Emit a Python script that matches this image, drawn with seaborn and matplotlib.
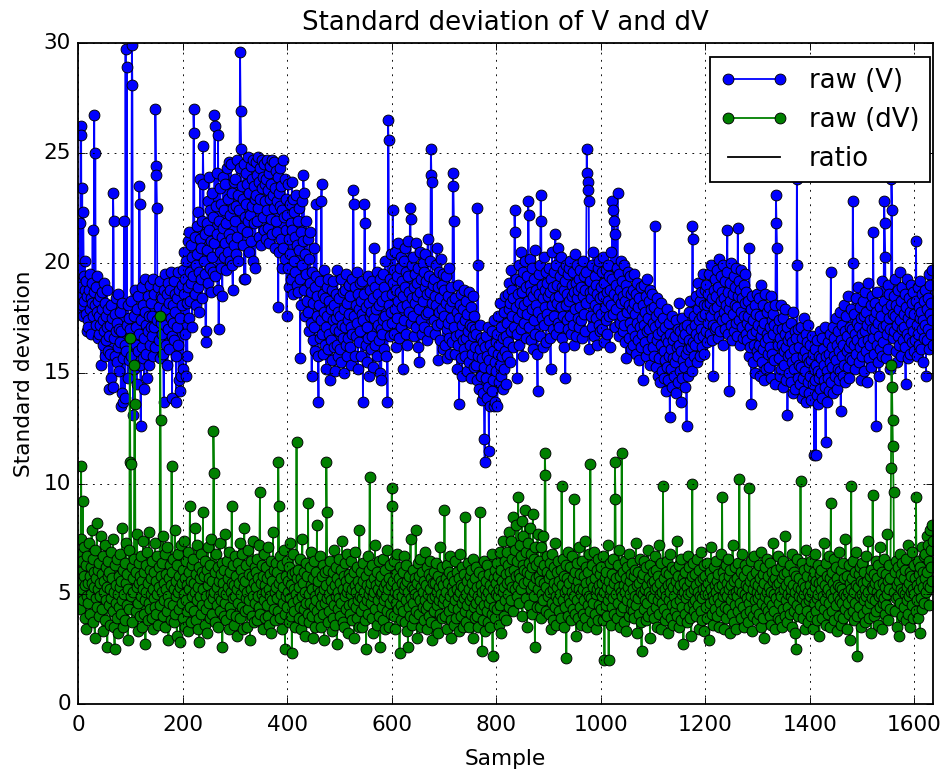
import numpy as np
import pandas as pd
import matplotlib
matplotlib.use("Agg")
import matplotlib.pyplot as plt
import seaborn as sns

plt.style.use("classic")
plt.rcParams["font.family"] = ["DejaVu Sans"]

# Standard deviation of V per sample, in tenths (value / 10)
raw_v_tenths = [
    185, 192, 178, 218, 189, 262, 258, 181, 234, 176, 223, 194, 183, 201, 188, 177, 192, 169, 185, 174,
    171, 188, 195, 179, 184, 168, 191, 182, 215, 176, 187, 267, 181, 250, 172, 189, 178, 194, 166, 183,
    176, 168, 185, 172, 154, 179, 187, 163, 174, 191, 169, 158, 182, 176, 165, 188, 171, 160, 179, 167,
    143, 172, 159, 181, 148, 175, 144, 232, 219, 166, 177, 158, 169, 184, 155, 173, 162, 186, 151, 170,
    164, 178, 135, 169, 141, 182, 157, 137, 219, 163, 139, 297, 160, 289, 172, 148, 181, 156, 175, 167,
    170, 158, 183, 299, 281, 165, 131, 176, 152, 188, 163, 171, 145, 179, 160, 185, 168, 235, 227, 154,
    126, 174, 162, 189, 157, 181, 166, 143, 178, 193, 159, 172, 148, 185, 169, 176, 154, 190, 163, 171,
    182, 167, 176, 158, 193, 171, 186, 162, 270, 244, 240, 225, 174, 189, 165, 180, 157, 192, 173, 185,
    168, 184, 176, 159, 137, 188, 172, 195, 163, 179, 186, 154, 191, 170, 182, 161, 188, 175, 196, 167,
    139, 181, 173, 192, 165, 186, 178, 158, 137, 184, 171, 196, 163, 147, 188, 142, 175, 149, 190, 181,
    197, 152, 186, 205, 168, 193, 149, 201, 182, 158, 210, 189, 175, 214, 196, 183, 208, 191, 171, 203,
    194, 270, 259, 186, 212, 199, 181, 217, 204, 189, 223, 196, 178, 211, 238, 193, 207, 184, 219, 253,
    236, 201, 213, 195, 164, 169, 218, 206, 228, 191, 215, 239, 198, 224, 187, 210, 232, 203, 196, 221,
    209, 267, 262, 194, 226, 213, 241, 188, 258, 170, 219, 205, 234, 198, 227, 212, 185, 239, 216, 203,
    224, 209, 236, 197, 218, 243, 205, 229, 213, 246, 201, 222, 245, 211, 232, 199, 188, 225, 208, 237,
    219, 238, 204, 226, 247, 212, 231, 201, 224, 243, 296, 269, 252, 216, 235, 208, 229, 245, 193, 221,
    193, 227, 241, 214, 236, 219, 248, 205, 232, 222, 244, 210, 238, 226, 201, 247, 218, 235, 229, 198,
    231, 246, 219, 240, 225, 248, 212, 237, 229, 243, 208, 234, 247, 221, 239, 215, 245, 228, 236, 211,
    238, 224, 247, 216, 233, 241, 209, 229, 244, 220, 236, 247, 213, 231, 225, 246, 207, 234, 219, 242,
    228, 214, 239, 180, 232, 205, 226, 243, 211, 235, 198, 224, 247, 207, 221, 238, 202, 229, 215, 176,
    222, 198, 236, 211, 189, 227, 204, 218, 193, 237, 215, 186, 229, 201, 223, 196, 212, 231, 190, 208,
    219, 187, 206, 225, 193, 157, 214, 181, 228, 199, 210, 240, 232, 188, 204, 176, 219, 195, 183, 211,
    178, 202, 169, 191, 214, 173, 187, 149, 196, 165, 182, 207, 171, 189, 160, 194, 227, 176, 185, 158,
    137, 181, 166, 192, 174, 228, 236, 168, 186, 159, 178, 197, 163, 184, 171, 152, 189, 176, 161, 193,
    168, 183, 147, 179, 165, 188, 156, 174, 192, 162, 181, 170, 151, 186, 175, 163, 197, 158, 178, 169,
    184, 161, 176, 193, 155, 172, 187, 166, 179, 150, 188, 171, 163, 195, 158, 182, 174, 166, 190, 177,
    162, 185, 171, 154, 193, 168, 233, 227, 176, 189, 158, 181, 167, 196, 173, 152, 186, 164, 179, 191,
    169, 183, 158, 177, 192, 137, 174, 186, 227, 218, 163, 180, 155, 171, 194, 166, 182, 149, 176, 188,
    161, 178, 192, 167, 184, 153, 175, 207, 189, 163, 179, 196, 158, 172, 186, 165, 181, 150, 193, 170,
    147, 183, 168, 195, 174, 161, 189, 176, 201, 158, 185, 172, 137, 265, 256, 181, 193, 167, 178, 204,
    186, 173, 224, 191, 168, 197, 179, 205, 162, 188, 194, 175, 209, 183, 166, 198, 187, 171, 203, 180,
    192, 152, 185, 201, 174, 189, 207, 168, 196, 181, 163, 194, 210, 178, 187, 225, 220, 173, 199, 184,
    176, 203, 189, 167, 195, 182, 209, 171, 191, 185, 162, 198, 179, 155, 187, 205, 174, 193, 168, 200,
    183, 196, 171, 189, 204, 177, 192, 165, 186, 211, 178, 194, 169, 187, 201, 252, 240, 237, 182, 190,
    174, 193, 185, 168, 199, 181, 207, 172, 156, 189, 178, 196, 165, 184, 202, 173, 190, 179, 161, 195,
    176, 188, 163, 182, 194, 170, 157, 185, 173, 198, 166, 180, 159, 189, 175, 164, 183, 241, 235, 219,
    171, 159, 184, 167, 178, 152, 190, 163, 175, 136, 181, 168, 157, 186, 172, 149, 179, 165, 188, 161,
    174, 158, 183, 166, 151, 177, 169, 187, 155, 172, 163, 180, 148, 171, 159, 185, 167, 153, 176, 162,
    170, 154, 168, 147, 225, 199, 158, 143, 172, 161, 149, 166, 138, 157, 164, 141, 153, 120, 110, 162,
    148, 167, 139, 158, 171, 144, 115, 156, 163, 135, 152, 169, 142, 160, 147, 174, 135, 155, 137, 164,
    151, 168, 135, 159, 176, 146, 163, 154, 182, 149, 171, 158, 143, 166, 178, 152, 160, 185, 145, 167,
    173, 158, 186, 164, 179, 191, 155, 182, 169, 197, 176, 188, 162, 184, 171, 224, 214, 180, 193, 168,
    148, 186, 175, 199, 163, 182, 192, 170, 205, 178, 187, 158, 196, 181, 173, 201, 166, 189, 177, 194,
    183, 228, 222, 171, 190, 202, 165, 187, 179, 198, 161, 185, 193, 174, 206, 168, 188, 181, 159, 142,
    178, 195, 186, 167, 199, 231, 219, 175, 190, 162, 184, 203, 172, 188, 180, 196, 164, 191, 177, 185,
    198, 174, 187, 166, 152, 193, 181, 205, 170, 189, 196, 176, 184, 213, 168, 199, 182, 190, 173, 207,
    185, 171, 194, 180, 203, 166, 189, 197, 176, 188, 162, 192, 148, 181, 199, 174, 186, 195, 170, 198,
    183, 176, 201, 168, 190, 185, 172, 196, 163, 187, 204, 179, 191, 167, 184, 199, 175, 188, 171, 193,
    180, 197, 174, 189, 166, 201, 185, 177, 194, 169, 188, 182, 196, 252, 241, 237, 233, 228, 161, 187,
    192, 176, 184, 199, 171, 188, 205, 167, 181, 194, 175, 190, 163, 186, 198, 179, 172, 201, 184, 169,
    189, 177, 196, 170, 185, 203, 164, 191, 180, 197, 174, 187, 168, 199, 183, 176, 194, 162, 188, 205,
    181, 193, 228, 177, 224, 186, 219, 171, 213, 190, 179, 198, 232, 184, 167, 195, 188, 173, 201, 182,
    176, 192, 169, 185, 199, 172, 183, 164, 190, 157, 187, 178, 196, 166, 181, 173, 194, 161, 186, 179,
    170, 188, 163, 182, 195, 167, 177, 159, 186, 173, 191, 165, 180, 156, 184, 171, 162, 189, 175, 168,
    181, 147, 172, 190, 164, 178, 158, 185, 169, 193, 175, 161, 183, 170, 188, 154, 179, 166, 186, 173,
    162, 180, 158, 217, 171, 153, 176, 165, 184, 149, 168, 178, 157, 173, 146, 182, 163, 169, 151, 175,
    160, 148, 171, 156, 166, 142, 179, 153, 164, 147, 173, 158, 130, 168, 152, 161, 176, 144, 165, 157,
    149, 167, 155, 174, 141, 162, 158, 170, 146, 163, 182, 151, 169, 137, 160, 175, 148, 166, 156, 171,
    153, 168, 144, 159, 126, 172, 161, 149, 178, 165, 155, 183, 162, 170, 151, 217, 211, 164, 176, 158,
    172, 163, 185, 168, 155, 179, 191, 166, 174, 158, 183, 170, 187, 162, 176, 195, 167, 181, 159, 188,
    177, 169, 190, 181, 164, 186, 173, 195, 168, 182, 176, 199, 165, 184, 172, 149, 188, 179, 193, 170,
    185, 171, 197, 180, 166, 189, 176, 202, 169, 183, 194, 174, 187, 163, 199, 178, 184, 170, 192, 181,
    175, 196, 215, 168, 187, 179, 142, 191, 183, 172, 200, 165, 186, 177, 194, 169, 189, 181, 173, 198,
    180, 167, 216, 185, 174, 192, 163, 188, 178, 197, 171, 184, 166, 190, 176, 182, 195, 168, 187, 173,
    165, 183, 176, 158, 207, 171, 162, 179, 136, 168, 185, 155, 174, 163, 181, 150, 177, 169, 186, 160,
    172, 158, 184, 163, 149, 176, 167, 190, 155, 170, 161, 181, 147, 173, 164, 186, 152, 168, 178, 159,
    166, 180, 153, 171, 162, 185, 148, 174, 159, 168, 177, 156, 172, 145, 181, 231, 218, 207, 163, 170,
    157, 174, 149, 166, 181, 152, 163, 170, 144, 175, 160, 154, 168, 179, 147, 162, 171, 131, 158, 165,
    150, 167, 159, 146, 173, 155, 164, 141, 178, 161, 152, 169, 143, 166, 157, 238, 199, 148, 170, 154,
    162, 145, 171, 153, 139, 166, 158, 148, 175, 142, 160, 151, 168, 137, 157, 164, 146, 172, 155, 141,
    163, 149, 156, 138, 167, 145, 159, 152, 113, 147, 161, 113, 154, 140, 165, 151, 136, 158, 148, 169,
    143, 157, 150, 166, 139, 161, 147, 154, 171, 144, 119, 158, 151, 137, 164, 148, 159, 142, 168, 155,
    196, 146, 162, 153, 171, 141, 158, 166, 149, 175, 156, 143, 163, 152, 169, 147, 160, 178, 151, 133,
    165, 158, 172, 149, 163, 181, 154, 169, 146, 176, 160, 167, 153, 185, 162, 148, 171, 157, 179, 164,
    170, 156, 228, 200, 163, 177, 152, 168, 184, 159, 173, 165, 189, 155, 171, 162, 180, 147, 175, 168,
    158, 183, 164, 176, 151, 187, 169, 160, 178, 146, 172, 165, 191, 157, 174, 163, 181, 153, 170, 185,
    166, 214, 175, 159, 182, 170, 126, 178, 163, 187, 155, 173, 167, 149, 180, 161, 176, 192, 158, 171,
    164, 183, 228, 218, 203, 172, 157, 179, 168, 190, 161, 175, 186, 152, 170, 181, 238, 224, 166, 177,
    185, 169, 176, 193, 160, 181, 172, 155, 188, 167, 179, 163, 196, 174, 158, 183, 170, 189, 165, 177,
    171, 186, 162, 145, 180, 168, 193, 157, 175, 184, 166, 178, 159, 190, 173, 164, 182, 169, 187, 160,
    177, 165, 183, 210, 172, 158, 189, 168, 180, 163, 175, 192, 161, 178, 170, 186, 155, 174, 183, 166,
    172, 188, 149, 179, 165, 184, 170, 195, 161, 177, 190, 168, 182, 174, 197, 163,
]

# Standard deviation of dV per sample, in tenths (value / 10)
raw_dv_tenths = [
    56, 51, 68, 43, 60, 75, 108, 52, 65, 92, 47, 58, 71, 39, 54, 63, 34, 49, 67, 55,
    46, 73, 58, 41, 62, 50, 79, 55, 37, 66, 53, 60, 30, 70, 48, 57, 82, 44, 61, 52,
    64, 40, 55, 49, 76, 43, 59, 33, 67, 51, 56, 38, 72, 47, 62, 53, 26, 58, 65, 45,
    60, 52, 36, 69, 48, 57, 42, 75, 51, 35, 25, 63, 46, 54, 39, 66, 50, 32, 58, 44,
    53, 68, 41, 56, 47, 80, 35, 61, 50, 64, 38, 55, 73, 45, 59, 29, 52, 70, 43, 166,
    110, 109, 49, 62, 37, 57, 51, 66, 154, 136, 42, 60, 53, 77, 46, 33, 64, 55, 40, 58,
    49, 67, 35, 56, 52, 74, 41, 60, 47, 27, 63, 51, 69, 38, 55, 46, 78, 43, 61, 50,
    57, 39, 65, 52, 34, 60, 48, 73, 44, 56, 41, 67, 50, 36, 62, 53, 45, 176, 129, 58,
    51, 64, 40, 76, 47, 55, 35, 68, 52, 59, 42, 71, 49, 29, 57, 46, 63, 38, 54, 108,
    60, 45, 66, 37, 52, 79, 41, 56, 49, 31, 63, 51, 68, 43, 58, 28, 53, 72, 46, 55,
    39, 61, 50, 74, 35, 57, 47, 65, 42, 54, 33, 69, 52, 60, 90, 44, 56, 37, 63, 49,
    66, 42, 55, 51, 80, 38, 59, 47, 72, 34, 53, 62, 28, 57, 49, 68, 41, 60, 45, 87,
    52, 58, 36, 65, 49, 43, 61, 32, 54, 71, 46, 57, 39, 63, 50, 75, 41, 56, 48, 124,
    105, 51, 60, 37, 68, 53, 45, 62, 35, 56, 49, 73, 42, 59, 47, 64, 26, 55, 51, 40,
    61, 46, 77, 50, 38, 65, 53, 57, 34, 69, 44, 60, 51, 41, 90, 55, 48, 63, 36, 54,
    49, 67, 40, 58, 52, 31, 64, 46, 55, 73, 39, 61, 50, 44, 68, 34, 57, 53, 80, 42,
    56, 48, 63, 35, 51, 70, 43, 59, 47, 29, 65, 52, 58, 40, 74, 49, 55, 37, 62, 46,
    53, 60, 38, 66, 49, 57, 44, 72, 96, 41, 55, 50, 63, 34, 58, 47, 68, 39, 54, 51,
    62, 45, 57, 40, 71, 52, 36, 59, 49, 65, 32, 56, 47, 78, 43, 61, 51, 38, 64, 53,
    48, 60, 42, 110, 90, 55, 39, 67, 50, 57, 34, 63, 46, 53, 70, 41, 25, 58, 49, 65,
    44, 56, 51, 37, 62, 48, 73, 40, 54, 23, 59, 46, 68, 42, 52, 60, 35, 50, 119, 57,
    47, 61, 39, 53, 66, 44, 34, 57, 49, 75, 38, 55, 43, 60, 51, 31, 64, 46, 58, 41,
    91, 50, 37, 62, 46, 54, 69, 40, 52, 30, 57, 44, 65, 49, 35, 60, 47, 81, 42, 53,
    56, 39, 51, 67, 45, 35, 58, 49, 63, 41, 52, 29, 60, 46, 54, 110, 87, 48, 37, 61,
    50, 42, 65, 47, 56, 33, 52, 60, 39, 70, 45, 54, 36, 62, 49, 27, 57, 51, 43, 66,
    48, 55, 40, 61, 46, 74, 37, 52, 58, 35, 64, 49, 43, 56, 51, 68, 32, 53, 45, 59,
    41, 57, 50, 65, 38, 52, 46, 60, 30, 54, 69, 44, 51, 39, 62, 47, 56, 35, 79, 49,
    53, 42, 60, 48, 35, 56, 64, 45, 51, 38, 58, 25, 47, 54, 67, 41, 50, 61, 103, 52,
    46, 55, 39, 63, 49, 32, 57, 51, 72, 43, 54, 36, 60, 47, 52, 65, 40, 56, 26, 50,
    58, 44, 51, 66, 38, 53, 47, 61, 34, 55, 49, 42, 70, 52, 35, 57, 46, 63, 41, 54,
    98, 90, 48, 56, 40, 65, 51, 34, 59, 46, 53, 68, 43, 50, 57, 23, 62, 45, 38, 55,
    49, 60, 42, 52, 67, 37, 54, 47, 63, 33, 56, 26, 51, 44, 58, 40, 75, 48, 53, 36,
    61, 46, 52, 39, 57, 50, 79, 42, 55, 30, 64, 49, 41, 58, 47, 66, 35, 53, 60, 44,
    51, 38, 56, 47, 69, 43, 54, 34, 62, 50, 45, 59, 40, 52, 65, 37, 57, 48, 29, 55,
    42, 60, 49, 55, 36, 64, 51, 45, 58, 32, 53, 47, 71, 41, 56, 50, 39, 62, 46, 54,
    48, 88, 40, 57, 51, 34, 63, 46, 55, 42, 60, 49, 67, 38, 30, 53, 58, 44, 51, 36,
    56, 47, 65, 39, 52, 60, 43, 49, 33, 57, 51, 68, 40, 54, 46, 62, 35, 53, 48, 59,
    42, 85, 50, 37, 56, 45, 64, 52, 35, 58, 47, 41, 61, 49, 55, 30, 66, 44, 51, 39,
    57, 46, 62, 40, 53, 49, 35, 60, 47, 87, 43, 54, 51, 24, 58, 38, 65, 45, 52, 33,
    49, 56, 42, 63, 37, 51, 46, 59, 35, 54, 48, 68, 41, 22, 52, 57, 44, 61, 39, 50,
    55, 43, 64, 49, 58, 36, 52, 69, 45, 61, 32, 56, 51, 74, 40, 53, 47, 65, 38, 59,
    55, 69, 50, 63, 78, 44, 60, 56, 74, 47, 66, 53, 85, 42, 61, 70, 52, 58, 81, 49,
    65, 54, 94, 59, 46, 72, 57, 67, 52, 83, 40, 63, 76, 55, 61, 88, 48, 69, 60, 35,
    73, 56, 64, 45, 80, 59, 52, 68, 41, 62, 86, 54, 66, 49, 26, 71, 57, 63, 44, 77,
    52, 58, 65, 44, 56, 71, 39, 61, 50, 76, 47, 55, 63, 114, 104, 53, 42, 60, 67, 49,
    57, 41, 64, 51, 34, 59, 46, 68, 52, 38, 55, 62, 44, 73, 49, 36, 60, 53, 47, 65,
    42, 56, 50, 61, 39, 99, 54, 47, 66, 35, 58, 51, 44, 63, 21, 52, 57, 40, 69, 48,
    55, 46, 62, 38, 51, 67, 43, 57, 49, 93, 41, 60, 53, 31, 64, 47, 56, 39, 52, 71,
    44, 59, 50, 36, 65, 52, 41, 58, 47, 74, 39, 55, 62, 35, 51, 60, 45, 68, 49, 42,
    109, 56, 48, 63, 37, 53, 46, 69, 41, 57, 50, 34, 61, 52, 38, 66, 45, 54, 51, 59,
    43, 62, 49, 55, 38, 67, 51, 20, 57, 45, 60, 40, 53, 72, 47, 20, 56, 50, 64, 36,
    52, 59, 44, 66, 48, 55, 41, 110, 93, 50, 57, 39, 63, 46, 53, 70, 35, 58, 51, 42,
    114, 49, 60, 44, 54, 37, 65, 51, 57, 33, 62, 47, 53, 40, 68, 50, 56, 43, 59, 46,
    64, 42, 52, 58, 39, 61, 49, 73, 45, 54, 32, 60, 48, 55, 41, 66, 51, 37, 24, 57,
    50, 59, 43, 65, 47, 52, 38, 62, 54, 46, 70, 40, 57, 51, 30, 63, 49, 55, 42, 60,
    48, 56, 39, 67, 52, 44, 61, 35, 53, 58, 47, 72, 41, 55, 50, 34, 64, 46, 51, 99,
    57, 43, 52, 38, 60, 49, 65, 41, 54, 32, 59, 47, 51, 68, 39, 55, 45, 62, 36, 53,
    49, 61, 42, 56, 46, 74, 40, 52, 58, 35, 63, 47, 54, 38, 66, 50, 44, 57, 27, 51,
    55, 41, 60, 48, 53, 37, 67, 50, 44, 62, 39, 56, 51, 31, 58, 100, 46, 64, 42, 52,
    47, 59, 40, 54, 66, 45, 51, 34, 61, 49, 56, 42, 69, 48, 38, 57, 52, 63, 33, 50,
    58, 44, 53, 39, 64, 50, 55, 29, 60, 46, 52, 71, 41, 57, 49, 36, 62, 47, 54, 43,
    51, 65, 40, 56, 48, 59, 35, 53, 46, 68, 42, 54, 94, 49, 60, 34, 57, 44, 51, 63,
    39, 55, 49, 66, 43, 52, 58, 32, 61, 47, 54, 41, 72, 50, 37, 56, 45, 62, 51, 34,
    57, 49, 42, 64, 52, 102, 46, 55, 39, 60, 51, 68, 44, 35, 58, 50, 63, 41, 54, 48,
    61, 37, 53, 46, 98, 56, 42, 65, 49, 33, 58, 52, 40, 67, 47, 55, 43, 60, 51, 38,
    54, 48, 63, 41, 57, 50, 35, 69, 46, 52, 59, 39, 55, 30, 62, 49, 44, 66, 51, 42,
    58, 47, 53, 40, 64, 51, 36, 60, 45, 56, 73, 42, 50, 57, 34, 61, 48, 54, 39, 67,
    46, 55, 51, 38, 62, 49, 57, 35, 65, 43, 52, 59, 40, 76, 47, 54, 37, 60, 50, 44,
    56, 41, 63, 49, 52, 35, 68, 47, 54, 42, 60, 51, 32, 25, 58, 45, 66, 40, 53, 49,
    57, 43, 101, 52, 48, 64, 39, 55, 50, 61, 34, 53, 46, 70, 42, 58, 51, 37, 62, 47,
    54, 49, 40, 65, 51, 57, 34, 60, 46, 53, 68, 42, 56, 48, 38, 63, 50, 55, 31, 59,
    45, 52, 61, 39, 56, 49, 73, 43, 54, 47, 36, 64, 51, 58, 41, 52, 67, 46, 35, 57,
    91, 50, 42, 60, 48, 55, 38, 66, 52, 45, 62, 33, 57, 49, 54, 40, 69, 47, 53, 36,
    61, 46, 52, 39, 64, 50, 57, 43, 75, 49, 34, 58, 51, 46, 63, 41, 55, 29, 52, 99,
    48, 57, 42, 65, 51, 38, 60, 46, 54, 69, 40, 22, 53, 59, 44, 62, 49, 35, 56, 50,
    64, 41, 55, 47, 60, 52, 37, 67, 49, 56, 43, 74, 51, 39, 58, 46, 61, 32, 53, 48,
    95, 52, 40, 59, 47, 55, 65, 42, 51, 57, 36, 63, 49, 54, 71, 44, 50, 34, 60, 46,
    55, 48, 66, 41, 53, 59, 45, 77, 50, 38, 56, 52, 63, 43, 57, 107, 154, 144, 129, 117,
    96, 51, 60, 42, 65, 48, 54, 35, 62, 49, 56, 31, 68, 46, 52, 59, 40, 64, 51, 57,
    44, 61, 50, 38, 66, 53, 47, 72, 41, 55, 49, 60, 35, 58, 51, 45, 69, 52, 39, 63,
    50, 57, 42, 94, 54, 47, 65, 39, 59, 52, 32, 62, 48, 56, 71, 43, 53, 60, 46, 67,
    57, 68, 51, 76, 60, 54, 72, 45, 65, 79, 53, 70, 62, 81, 56, 74,
]

series_labels = ["raw (V)", "raw (dV)", "ratio"]
x_ticks = [0, 200, 400, 600, 800, 1000, 1200, 1400, 1600]
y_ticks = [0, 5, 10, 15, 20, 25, 30]

raw_v = np.array(raw_v_tenths) / 10.0
raw_dv = np.array(raw_dv_tenths) / 10.0
df_v = pd.DataFrame({"Sample": np.arange(len(raw_v)), "value": raw_v})
df_dv = pd.DataFrame({"Sample": np.arange(len(raw_dv)), "value": raw_dv})
n_samples = max(len(raw_v), len(raw_dv))

DPI = 130
fig = plt.figure(figsize=(949 / DPI, 774 / DPI), dpi=DPI, facecolor="white")
ax = fig.add_axes([78 / 949, 1 - 704 / 774, (933.3 - 78) / 949, (704 - 42.7) / 774])

common = dict(marker="o", markersize=6, markeredgecolor="k", markeredgewidth=0.5,
              linewidth=1, estimator=None, sort=False, ax=ax)
sns.lineplot(data=df_v, x="Sample", y="value", color="b", label=series_labels[0], **common)
sns.lineplot(data=df_dv, x="Sample", y="value", color="g", label=series_labels[1], **common)
ax.plot([], [], color="k", linewidth=1, label=series_labels[2])

ax.set_xlim(0, n_samples)
ax.set_ylim(0, 30)
ax.set_xticks(x_ticks)
ax.set_yticks(y_ticks)
ax.tick_params(axis="x", pad=plt.rcParams["xtick.major.pad"] + 2)
ax.grid(True, color="k", linestyle=":", linewidth=0.5)
ax.set_axisbelow(False)
ax.set_title("Standard deviation of V and dV", pad=7)
ax.set_xlabel("Sample", labelpad=plt.rcParams["axes.labelpad"] + 3)
ax.set_ylabel("Standard deviation")
ax.legend(loc="upper right", bbox_to_anchor=(0.9961, 0.978), borderaxespad=0,
          numpoints=2, fontsize=14.4, fancybox=False, framealpha=1,
          edgecolor="k", handlelength=2.6)

fig.savefig("out.png", dpi=DPI, facecolor="white")
